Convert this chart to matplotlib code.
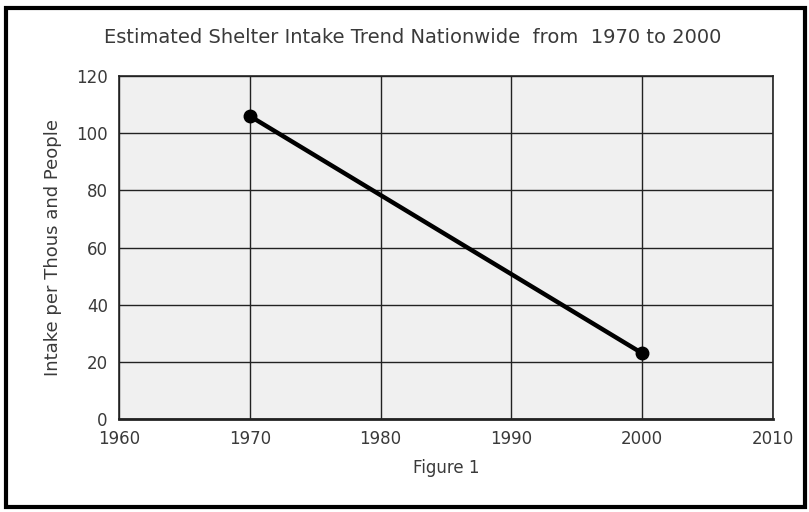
import matplotlib
matplotlib.use('Agg')
from matplotlib import pyplot as plt
from matplotlib.patches import Rectangle

# data
years = [1970, 2000]
intake = [106, 23]
x_ticks = [1960, 1970, 1980, 1990, 2000, 2010]
y_ticks = [0, 20, 40, 60, 80, 100, 120]

plt.rcParams['font.family'] = ['DejaVu Sans']

fig = plt.figure(figsize=(8.09, 5.12), dpi=100)
ax = fig.add_axes([0.147, 0.1816, 0.8085, 0.670])
ax.set_facecolor('#f0f0f0')

ax.plot(years, intake, color='black', linewidth=3.2, marker='o',
        markersize=9, zorder=3)

ax.set_xlim(1960, 2010)
ax.set_ylim(0, 120)
ax.set_xticks(x_ticks)
ax.set_yticks(y_ticks)
ax.grid(True, color='#222222', linewidth=1.0, zorder=1)
ax.set_axisbelow(True)
ax.tick_params(length=0, pad=8, labelsize=12, colors='#3a3a3a')
for side in ['top', 'right', 'left']:
    ax.spines[side].set_color('#222222')
    ax.spines[side].set_linewidth(1.2)
ax.spines['bottom'].set_color('#222222')
ax.spines['bottom'].set_linewidth(2.0)

ax.set_xlabel('Figure 1', fontsize=12, color='#3a3a3a', labelpad=8)
ax.set_ylabel('Intake per Thous and People', fontsize=13, color='#3a3a3a', labelpad=10)
fig.text(0.51, 0.926, 'Estimated Shelter Intake Trend Nationwide  from  1970 to 2000',
         ha='center', va='center', fontsize=14, color='#3a3a3a')

# outer black frame
fig.patches.append(Rectangle((0.007, 0.01), 0.988, 0.975, transform=fig.transFigure,
                             fill=False, edgecolor='black', linewidth=3))

plt.savefig('out.png', dpi=100)
